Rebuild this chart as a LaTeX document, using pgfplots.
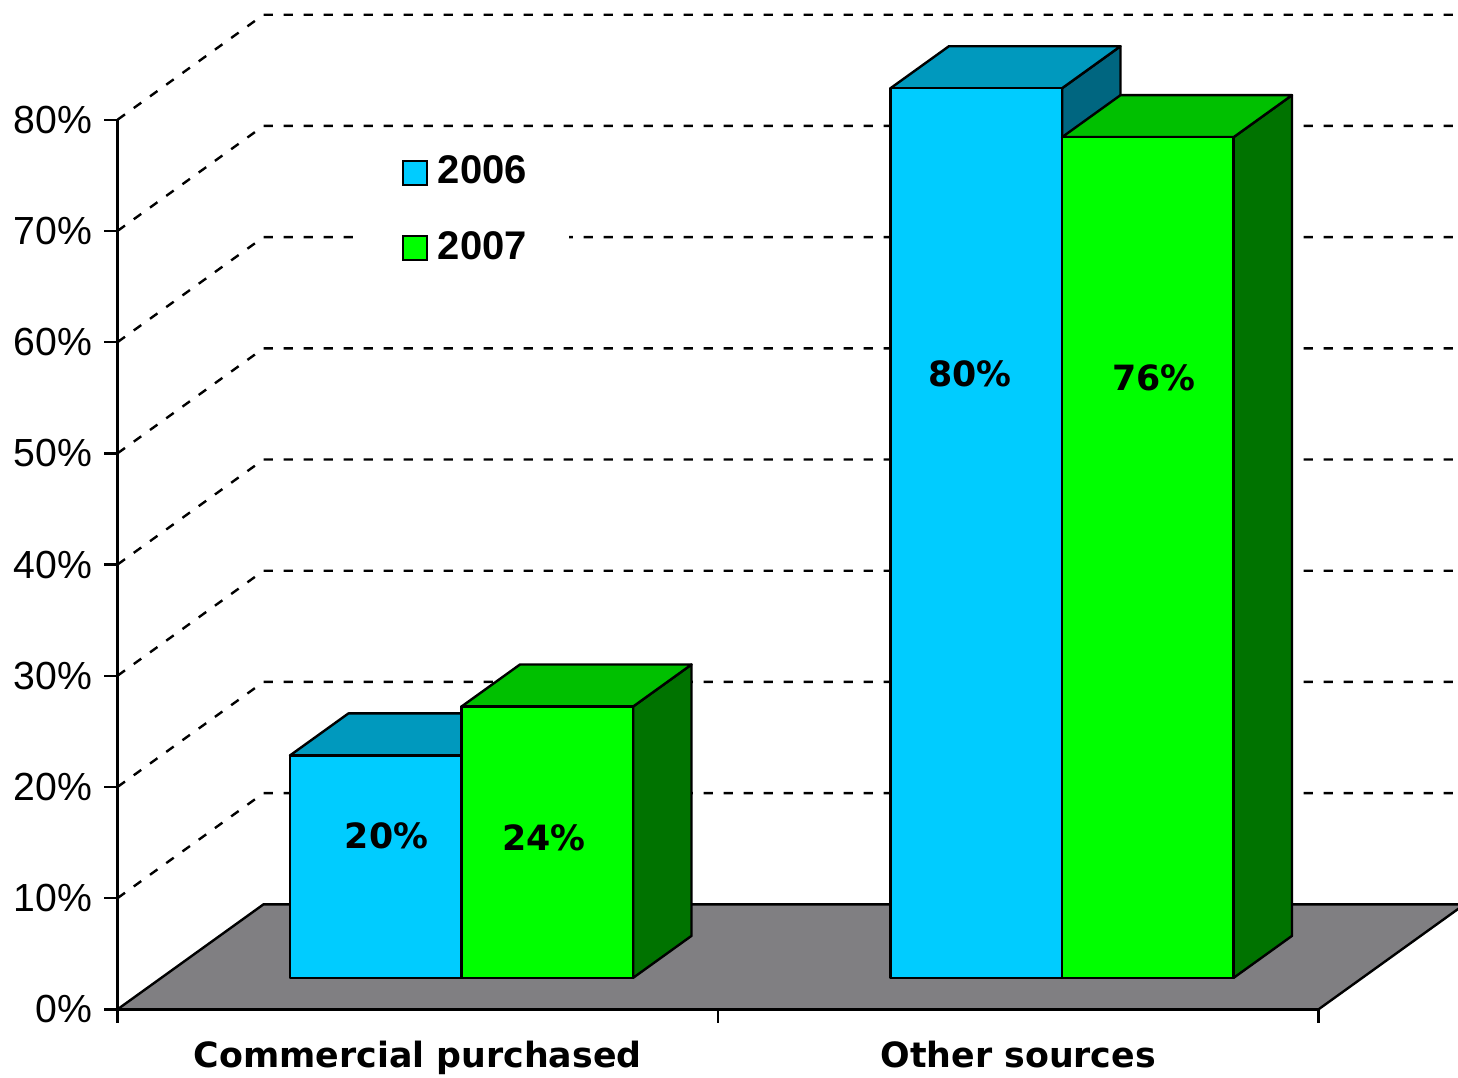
\documentclass[border=0pt]{standalone}
\usepackage{pgfplots}
\pgfplotsset{compat=1.18}
\usepackage{fontspec}
\setmainfont{Liberation Sans}
\newfontfamily\dvfont{DejaVu Sans}
\definecolor{cAf}{RGB}{0,204,255}
\definecolor{cAt}{RGB}{0,153,190}
\definecolor{cAs}{RGB}{0,102,128}
\definecolor{cBf}{RGB}{0,255,0}
\definecolor{cBt}{RGB}{0,192,0}
\definecolor{cBs}{RGB}{0,115,0}
\definecolor{floorgray}{RGB}{128,127,130}
\newcommand\barfont{\dvfont\bfseries\fontsize{8.7}{10}\selectfont}
\pgfplotsset{sqlegend/.style={legend image code/.code={\draw[##1,line width=0.5pt] (0pt,-3pt) rectangle (6pt,3pt);}}}
% one 3-D bar: left, right, value, front, top, side colours
\newcommand\dbar[6]{%
  \addplot3[fill=#6, draw=black, line width=0.6pt, line join=round] coordinates {(#2,0.3,0) (#2,0.7,0) (#2,0.7,#3) (#2,0.3,#3)} -- cycle;
  \addplot3[fill=#5, draw=black, line width=0.6pt, line join=round] coordinates {(#1,0.3,#3) (#2,0.3,#3) (#2,0.7,#3) (#1,0.7,#3)} -- cycle;
  \addplot3[fill=#4, draw=black, line width=0.6pt, line join=round] coordinates {(#1,0.3,0) (#2,0.3,0) (#2,0.3,#3) (#1,0.3,#3)} -- cycle;
}
\begin{document}
\begin{tikzpicture}
\begin{axis}[
  name=threed,
  x={(150.125pt,0pt)}, y={(36.5pt,26.25pt)}, z={(0pt,2.78pt)},
  xmin=0, xmax=2, ymin=0, ymax=1, zmin=0, zmax=90,
  hide axis, clip=false,
]
% left wall and back wall gridlines
\pgfplotsinvokeforeach{10,20,30,40,50,60,70,80}{
  \addplot3[black, line width=0.6pt, dash pattern=on 2.3pt off 2.7pt] coordinates {(0,0,#1) (0,1,#1) (2,1,#1)};
}
% floor
\addplot3[fill=floorgray, draw=black, line width=0.6pt] coordinates {(0,0,0) (2,0,0) (2,1,0) (0,1,0)} -- cycle;
% bars: Commercial purchased (2006, 2007), Other sources (2006, 2007)
\dbar{0.2143}{0.5}{20}{cAf}{cAt}{cAs}
\dbar{0.5}{0.7857}{24.4}{cBf}{cBt}{cBs}
\dbar{1.2143}{1.5}{80}{cAf}{cAt}{cAs}
\dbar{1.5}{1.7857}{75.6}{cBf}{cBt}{cBs}
% value labels
\node[font=\barfont] at (axis cs:0.448,0,15.63) {20\%};
\node[font=\barfont] at (axis cs:0.7102,0,15.45) {24\%};
\node[font=\barfont] at (axis cs:1.4196,0,57.13) {80\%};
\node[font=\barfont] at (axis cs:1.726,0,56.77) {76\%};
\coordinate (O) at (axis cs:0,0,0);
\coordinate (BL) at (axis cs:-0.1957,0,-6.09);
\coordinate (TR) at (axis cs:2.2323,0,90.77);
\end{axis}
\begin{axis}[
  at={(O)}, anchor=south west,
  x=150.125pt, y=2.78pt,
  xmin=0, xmax=2, ymin=0, ymax=80,
  axis x line*=bottom, axis y line*=left,
  axis line style={line width=0.6pt},
  tick align=outside, major tick length=3.3pt,
  tick style={line width=0.6pt, black},
  ytick={0,10,20,30,40,50,60,70,80},
  yticklabels={0\%,10\%,20\%,30\%,40\%,50\%,60\%,70\%,80\%},
  yticklabel style={font=\fontsize{9.8}{11}\selectfont, inner sep=0pt, xshift=-2.8pt},
  xtick={0,1,2}, xticklabels={,,},
  extra x ticks={0.5,1.5},
  extra x tick labels={Commercial purchased,Other sources},
  extra x tick style={major tick length=0pt, xticklabel style={font=\barfont, inner sep=0pt, anchor=north, yshift=-7.8pt}},
  legend style={at={(axis description cs:0.2011,0.9826)}, anchor=north west,
    draw=none, fill=white, font=\bfseries\fontsize{10}{12}\selectfont,
    inner xsep=10.5pt, inner ysep=5pt, row sep=10.3pt, column sep=2.5pt,
    nodes={inner sep=0pt}},
  legend cell align=left,
]
\addlegendimage{sqlegend, fill=cAf, draw=black}
\addlegendentry{2006}
\addlegendimage{sqlegend, fill=cBf, draw=black}
\addlegendentry{2007}
\end{axis}
\pgfresetboundingbox
\path (BL) rectangle (TR);
\end{tikzpicture}
\end{document}
